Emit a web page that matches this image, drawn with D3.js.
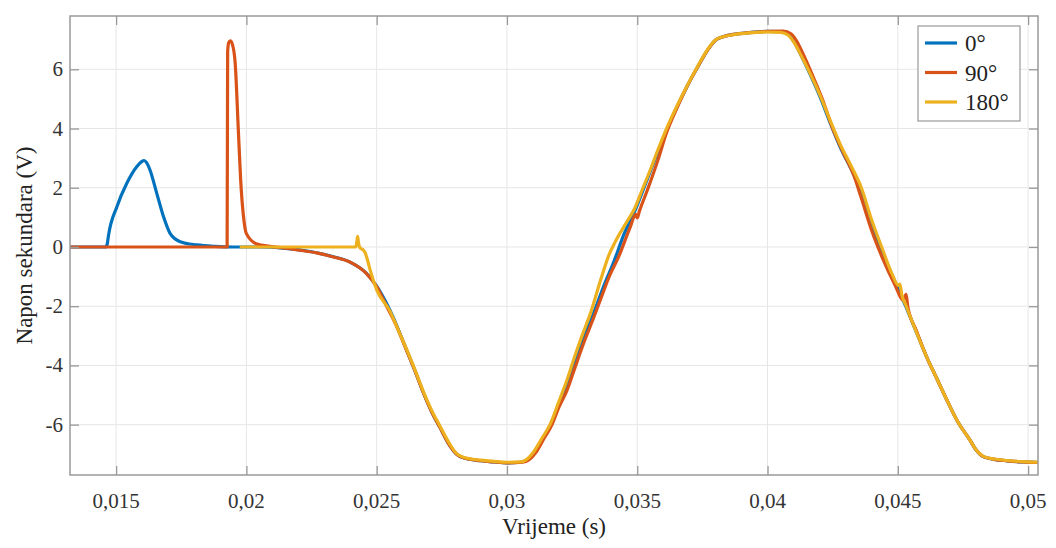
<!DOCTYPE html>
<html lang="en">
<head>
	<meta charset="UTF-8">
	<title>Napon sekundara</title>
	<style>
		html, body {width: 100%; height: 100%; padding: 0; margin: 0; background: #fff;}
		svg {display: block;}
		.grid line {stroke: #e6e6e6; stroke-width: 1px;}
		.tick-label {font-family: 'Liberation Serif', 'DejaVu Serif', serif; font-size: 21px; fill: #333;}
		.axis-title {font-family: 'Liberation Serif', 'DejaVu Serif', serif; font-size: 23px; fill: #222;}
		.legend text {font-family: 'Liberation Serif', 'DejaVu Serif', serif; font-size: 23px; fill: #222;}
	</style>
	<script src="https://d3js.org/d3.v7.min.js"></script>
</head>
<body>

<script>
	// Series names and colours (MATLAB defaults)
	var seriesNames = ['0°', '90°', '180°'];
	var seriesColors = ['#0072BD', '#D95319', '#EDB120'];

	// Tick values
	var xTicks = [0.015, 0.02, 0.025, 0.03, 0.035, 0.04, 0.045, 0.05];
	var yTicks = [-6, -4, -2, 0, 2, 4, 6];

	// [time (s), voltage (V)]
	var blue = [
		[0.01323, 0], [0.0146, 0], [0.01466, 0.1], [0.0147, 0.35], [0.01503, 1.36], [0.01541, 2.15],
		[0.01579, 2.71], [0.01598, 2.88], [0.01607, 2.92], [0.01617, 2.85], [0.0163, 2.6], [0.01656, 1.81],
		[0.01682, 1.02], [0.01707, 0.46], [0.01746, 0.18], [0.0181, 0.07], [0.0188, 0.02], [0.0195, 0],
		[0.0205, 0], [0.0215, -0.05], [0.0222, -0.12], [0.0233, -0.32], [0.024, -0.52], [0.0246, -0.88],
		[0.025, -1.32], [0.0255, -2.12], [0.0258, -2.72], [0.02615, -3.48], [0.0265, -4.25], [0.0268, -4.94],
		[0.0271, -5.55], [0.02743, -6.1], [0.0278, -6.7], [0.02807, -7.0], [0.02833, -7.12], [0.029, -7.22],
		[0.0295, -7.26], [0.03, -7.29], [0.0305, -7.27], [0.03075, -7.2], [0.031, -6.98], [0.03135, -6.5],
		[0.03165, -6.05], [0.032, -5.3], [0.0323, -4.7], [0.0326, -3.95], [0.0329, -3.2], [0.0333, -2.3],
		[0.0337, -1.35], [0.0341, -0.5], [0.0345, 0.45], [0.0349, 1.2], [0.0353, 2.1], [0.0357, 3.0],
		[0.0361, 3.88], [0.0365, 4.68], [0.0369, 5.4], [0.0373, 6.05], [0.0377, 6.65], [0.038, 6.98],
		[0.0383, 7.1], [0.0387, 7.18], [0.0393, 7.24], [0.04, 7.28], [0.0405, 7.27], [0.0408, 7.18],
		[0.041, 6.95], [0.0413, 6.45], [0.0416, 5.9], [0.042, 5.1], [0.0424, 4.2], [0.0428, 3.35],
		[0.0432, 2.65], [0.0436, 1.85], [0.044, 0.75], [0.0444, -0.15], [0.0449, -1.2], [0.0453, -2.0],
		[0.0457, -2.85], [0.0461, -3.7], [0.0465, -4.45], [0.0469, -5.2], [0.0473, -5.9], [0.04777, -6.52],
		[0.048, -6.85], [0.04828, -7.08], [0.0487, -7.17], [0.0492, -7.22], [0.0498, -7.26], [0.0505, -7.28]
	];
	var red = [
		[0.01323, 0], [0.01926, 0], [0.01928, 6.6], [0.01932, 6.9], [0.01938, 6.96], [0.01946, 6.85],
		[0.01957, 6.2], [0.01969, 3.95], [0.01978, 2.26], [0.01988, 1.1], [0.02, 0.45], [0.0204, 0.1],
		[0.0209, 0.02], [0.0215, -0.04], [0.0221, -0.12], [0.0227, -0.2], [0.0233, -0.33], [0.024, -0.52],
		[0.0246, -0.89], [0.025, -1.34], [0.02539, -2.02], [0.0257, -2.55], [0.0258, -2.75], [0.02615, -3.5],
		[0.0265, -4.25], [0.0268, -4.94], [0.0271, -5.55], [0.02743, -6.1], [0.0278, -6.7], [0.02807, -7.0],
		[0.02833, -7.12], [0.029, -7.22], [0.0295, -7.26], [0.03, -7.29], [0.0306, -7.27], [0.03085, -7.18],
		[0.0311, -6.95], [0.0314, -6.5], [0.0317, -6.05], [0.032, -5.4], [0.0323, -4.85], [0.0326, -4.1],
		[0.0329, -3.35], [0.0333, -2.45], [0.0336, -1.75], [0.0339, -1.05], [0.0343, -0.3], [0.0347, 0.6],
		[0.03495, 1.1], [0.035, 0.98], [0.03508, 1.2], [0.0354, 1.95], [0.0358, 2.95], [0.0361, 3.8],
		[0.0365, 4.65], [0.0369, 5.4], [0.0373, 6.05], [0.0377, 6.65], [0.038, 6.98], [0.0383, 7.1],
		[0.0387, 7.18], [0.0393, 7.24], [0.04, 7.28], [0.0406, 7.29], [0.0409, 7.2], [0.0411, 6.98],
		[0.0414, 6.45], [0.0417, 5.85], [0.0421, 5.0], [0.0425, 4.0], [0.0429, 3.2], [0.0433, 2.45],
		[0.0436, 1.65], [0.044, 0.55], [0.0444, -0.35], [0.0449, -1.3], [0.0452, -1.8], [0.04532, -1.6],
		[0.04538, -2.0], [0.0457, -2.8], [0.0461, -3.7], [0.0465, -4.45], [0.0469, -5.2], [0.0473, -5.9],
		[0.04777, -6.52], [0.048, -6.85], [0.04828, -7.08], [0.0487, -7.17], [0.0492, -7.22], [0.0498, -7.26],
		[0.0505, -7.28]
	];
	var yellow = [
		[0.0198, 0], [0.0242, 0], [0.02424, 0.2], [0.02427, 0.36], [0.0243, 0.15], [0.02436, -0.03],
		[0.02448, -0.1], [0.02455, -0.18], [0.02465, -0.45], [0.02475, -0.78], [0.025, -1.45], [0.0255, -2.15],
		[0.0258, -2.75], [0.02615, -3.46], [0.0265, -4.22], [0.0268, -4.9], [0.0271, -5.5], [0.02743, -6.05],
		[0.0278, -6.65], [0.02807, -6.98], [0.02833, -7.1], [0.029, -7.2], [0.0295, -7.24], [0.03, -7.27],
		[0.0305, -7.26], [0.03075, -7.18], [0.031, -6.95], [0.03135, -6.45], [0.03165, -6.0], [0.032, -5.2],
		[0.0323, -4.5], [0.0326, -3.7], [0.0329, -2.95], [0.0332, -2.25], [0.0336, -1.1], [0.0339, -0.3],
		[0.0342, 0.25], [0.0346, 0.85], [0.0349, 1.3], [0.0352, 1.95], [0.0355, 2.6], [0.0358, 3.3],
		[0.0361, 3.95], [0.0365, 4.72], [0.0369, 5.42], [0.0373, 6.07], [0.0377, 6.67], [0.038, 6.99],
		[0.0383, 7.1], [0.0387, 7.17], [0.0393, 7.23], [0.04, 7.26], [0.0405, 7.25], [0.0408, 7.15],
		[0.041, 6.93], [0.0413, 6.45], [0.0416, 5.92], [0.042, 5.15], [0.0424, 4.28], [0.0428, 3.45],
		[0.0432, 2.75], [0.0436, 2.0], [0.044, 0.9], [0.0444, -0.05], [0.0448, -0.95], [0.04502, -1.3],
		[0.04508, -1.25], [0.04515, -1.6], [0.0453, -1.95], [0.0457, -2.85], [0.0461, -3.7], [0.0465, -4.45],
		[0.0469, -5.2], [0.0473, -5.9], [0.04777, -6.52], [0.048, -6.85], [0.04828, -7.07], [0.0487, -7.16],
		[0.0492, -7.21], [0.0498, -7.25], [0.0505, -7.27]
	];
	var seriesData = [blue, red, yellow];

	var width = 1056;
	var height = 548;
	var margin = {left: 70, top: 16, right: 18, bottom: 73};
	var serif = "'Liberation Serif', 'DejaVu Serif', serif";
</script>

<script>
	var locale = d3.formatLocale({decimal: ',', thousands: '.', grouping: [3], currency: ['', ''], minus: '-'});
	var fmt = locale.format('~g');

	var svg = d3.select('body').append('svg')
		.attr('width', width)
		.attr('height', height);

	var x = d3.scaleLinear().domain([0.01323, 0.05038]).range([margin.left, width - margin.right]);
	var y = d3.scaleLinear().domain([-7.7, 7.8]).range([height - margin.bottom, margin.top]);

	var x0 = margin.left, x1 = width - margin.right;
	var y0 = height - margin.bottom, y1 = margin.top;

	// grid
	var grid = svg.append('g').attr('class', 'grid');
	grid.selectAll('.gx').data(xTicks).enter().append('line')
		.attr('x1', function (d) { return x(d); }).attr('x2', function (d) { return x(d); })
		.attr('y1', y0).attr('y2', y1);
	grid.selectAll('.gy').data(yTicks).enter().append('line')
		.attr('x1', x0).attr('x2', x1)
		.attr('y1', function (d) { return y(d); }).attr('y2', function (d) { return y(d); });

	// clip for the lines
	svg.append('clipPath').attr('id', 'plot-clip')
		.append('rect').attr('x', x0).attr('y', y1).attr('width', x1 - x0).attr('height', y0 - y1);

	var line = d3.line()
		.x(function (d) { return x(d[0]); })
		.y(function (d) { return y(d[1]); })
		.curve(d3.curveMonotoneX);

	svg.append('g').attr('clip-path', 'url(#plot-clip)')
		.selectAll('path').data(seriesData).enter().append('path')
		.attr('fill', 'none')
		.attr('stroke', function (d, i) { return seriesColors[i]; })
		.attr('stroke-width', 3.2)
		.attr('stroke-linejoin', 'round')
		.attr('stroke-linecap', 'round')
		.attr('d', line);

	// axes (inside ticks on all four sides, MATLAB box style)
	var tickLen = 9;
	var axisColor = '#999';
	svg.append('g').call(d3.axisBottom(x).tickValues(xTicks).tickSize(-tickLen).tickFormat(''))
		.attr('transform', 'translate(0,' + y0 + ')');
	svg.append('g').call(d3.axisTop(x).tickValues(xTicks).tickSize(-tickLen).tickFormat(''))
		.attr('transform', 'translate(0,' + y1 + ')');
	svg.append('g').call(d3.axisLeft(y).tickValues(yTicks).tickSize(-tickLen).tickFormat(''))
		.attr('transform', 'translate(' + x0 + ',0)');
	svg.append('g').call(d3.axisRight(y).tickValues(yTicks).tickSize(-tickLen).tickFormat(''))
		.attr('transform', 'translate(' + x1 + ',0)');
	svg.selectAll('.domain').remove();
	svg.selectAll('.tick line').attr('stroke', axisColor).attr('stroke-width', 1.3);
	svg.append('rect')
		.attr('x', x0).attr('y', y1).attr('width', x1 - x0).attr('height', y0 - y1)
		.attr('fill', 'none').attr('stroke', axisColor).attr('stroke-width', 1.5);

	// tick labels
	svg.selectAll('.xl').data(xTicks).enter().append('text')
		.attr('class', 'tick-label')
		.attr('font-family', serif)
		.attr('x', function (d) { return x(d); })
		.attr('y', y0 + 33)
		.attr('text-anchor', 'middle')
		.text(function (d) { return fmt(d); });
	svg.selectAll('.yl').data(yTicks).enter().append('text')
		.attr('class', 'tick-label')
		.attr('font-family', serif)
		.attr('x', x0 - 7)
		.attr('y', function (d) { return y(d) + 7; })
		.attr('text-anchor', 'end')
		.text(function (d) { return fmt(d); });

	// axis titles
	svg.append('text').attr('class', 'axis-title')
		.attr('x', (x0 + x1) / 2).attr('y', height - 14)
		.attr('text-anchor', 'middle')
		.text('Vrijeme (s)');
	svg.append('text').attr('class', 'axis-title')
		.attr('transform', 'translate(32,' + ((y0 + y1) / 2) + ') rotate(-90)')
		.attr('text-anchor', 'middle')
		.text('Napon sekundara (V)');

	// legend
	var legend = svg.append('g').attr('class', 'legend');
	legend.append('rect')
		.attr('x', 918).attr('y', 26).attr('width', 102).attr('height', 95)
		.attr('fill', '#fff').attr('stroke', '#999').attr('stroke-width', 1.2);
	var items = legend.selectAll('.item').data(seriesNames).enter().append('g')
		.attr('transform', function (d, i) { return 'translate(0,' + (43 + i * 29.5) + ')'; });
	items.append('line')
		.attr('x1', 925).attr('x2', 957).attr('y1', 0).attr('y2', 0)
		.attr('stroke', function (d, i) { return seriesColors[i]; })
		.attr('stroke-width', 3.2);
	items.append('text')
		.attr('x', 965).attr('y', 8)
		.text(function (d) { return d; });
</script>

</body>
</html>
